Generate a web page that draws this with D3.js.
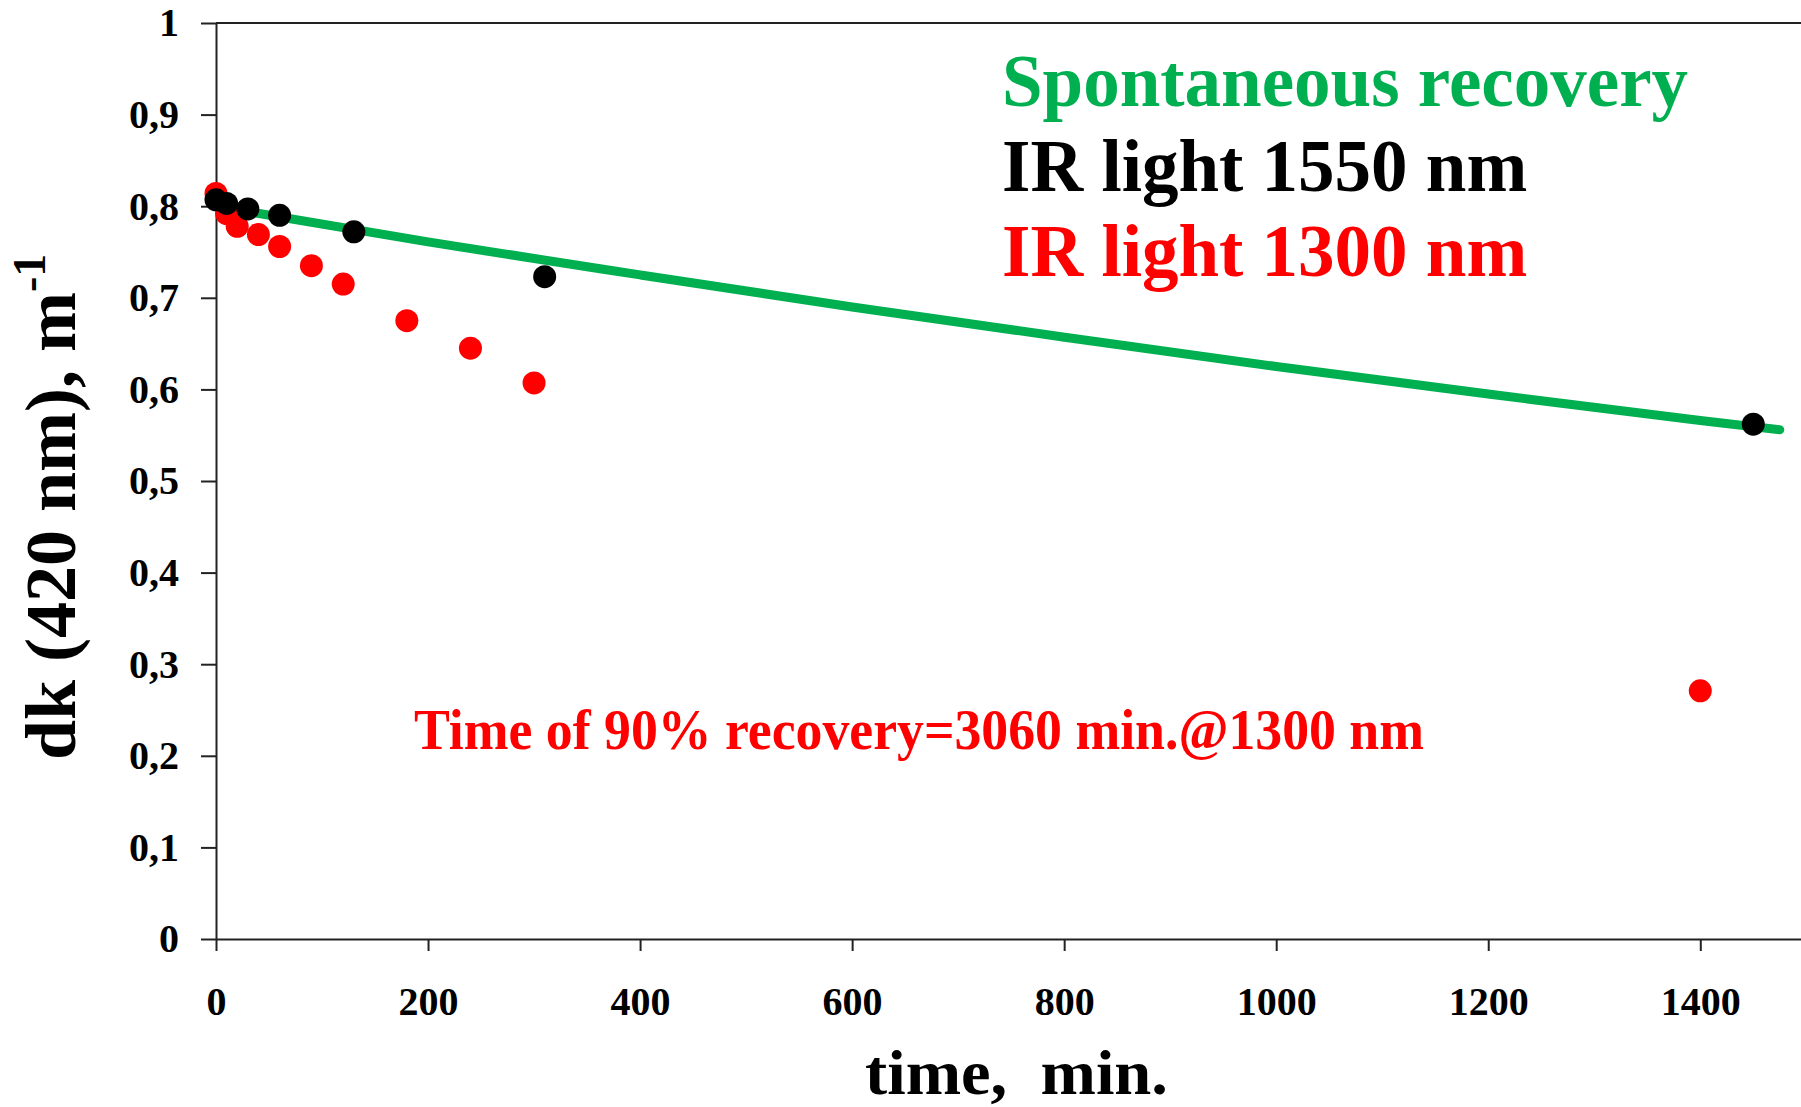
<!DOCTYPE html>
<html>
<head>
<meta charset="utf-8">
<script src="https://cdn.jsdelivr.net/npm/d3@7"></script>
<style>
  body { margin: 0; background: #fff; }
  svg { display: block; font-family: "Liberation Serif", "Times New Roman", serif; font-weight: bold; }
</style>
</head>
<body>
<div id="chart"></div>
<script>
// data
var spontTime = [0, 200, 400, 600, 800, 1000, 1200, 1400, 1475];
var spontDk = [0.800, 0.761, 0.725, 0.690, 0.657, 0.625, 0.595, 0.566, 0.556];

var ir1550Time = [0, 10, 30, 60, 130, 310, 1450];
var ir1550Dk = [0.807, 0.803, 0.797, 0.790, 0.772, 0.723, 0.562];

var ir1300Time = [0, 10, 20, 40, 60, 90, 120, 180, 240, 300, 1400];
var ir1300Dk = [0.814, 0.792, 0.778, 0.769, 0.756, 0.735, 0.715, 0.675, 0.645, 0.607, 0.271];

var xTicks = [0, 200, 400, 600, 800, 1000, 1200, 1400];
var yTicks = [0, 0.1, 0.2, 0.3, 0.4, 0.5, 0.6, 0.7, 0.8, 0.9, 1];
var yTickLabels = ["0", "0,1", "0,2", "0,3", "0,4", "0,5", "0,6", "0,7", "0,8", "0,9", "1"];

var legendNames = ["Spontaneous recovery", "IR light 1550 nm", "IR light 1300 nm"];
var noteText = "Time of 90% recovery=3060 min.@1300 nm";

var svgWidth = 1801;
var svgHeight = 1107;

var margin = { top: 23, right: 0, bottom: 168, left: 216 };
var height = svgHeight - margin.top - margin.bottom;

var green = "#00b050", red = "#ff0000", black = "#000";

var svg = d3.select("#chart")
  .append("svg")
  .attr("width", svgWidth)
  .attr("height", svgHeight);

var chartGroup = svg.append("g")
  .attr("transform", `translate(${margin.left}, ${margin.top})`);

// 1.06 px per minute, axis runs off the right edge
var xScale = d3.scaleLinear()
  .domain([0, 1495])
  .range([0, 1585]);

var yScale = d3.scaleLinear()
  .domain([0, 1])
  .range([height, 0]);

//axes
var bottomAxis = d3.axisBottom(xScale)
  .tickValues(xTicks)
  .tickSize(12)
  .tickSizeOuter(0)
  .tickFormat(d3.format("d"));

var leftAxis = d3.axisLeft(yScale)
  .tickValues(yTicks)
  .tickSize(15)
  .tickSizeOuter(0)
  .tickPadding(22)
  .tickFormat((d, i) => yTickLabels[i]);

var xAxisG = chartGroup.append("g")
  .attr("transform", `translate(0, ${height})`)
  .call(bottomAxis);
xAxisG.selectAll("text")
  .attr("y", 76)
  .attr("dy", 0);

var yAxisG = chartGroup.append("g")
  .call(leftAxis);

// top border
chartGroup.append("line")
  .attr("x1", 0).attr("x2", svgWidth - margin.left)
  .attr("y1", yScale(1)).attr("y2", yScale(1))
  .attr("stroke", "#222").attr("stroke-width", 2);

chartGroup.selectAll(".domain, .tick line")
  .attr("stroke", "#222")
  .attr("stroke-width", 2);
chartGroup.selectAll(".tick text")
  .attr("font-family", "Liberation Serif")
  .attr("font-weight", "bold")
  .attr("font-size", 40)
  .attr("fill", "#000");

// spontaneous recovery curve
var spontData = spontTime.map((t, i) => ({ t: t, v: spontDk[i] }));
var line = d3.line()
  .x(d => xScale(d.t))
  .y(d => yScale(d.v))
  .curve(d3.curveMonotoneX);

chartGroup.append("path")
  .datum(spontData)
  .attr("d", line)
  .attr("fill", "none")
  .attr("stroke", green)
  .attr("stroke-width", 9)
  .attr("stroke-linecap", "round");

//points
chartGroup.selectAll(".red-dot")
  .data(ir1300Time.map((t, i) => ({ t: t, v: ir1300Dk[i] })))
  .enter()
  .append("circle")
  .attr("class", "red-dot")
  .attr("cx", d => xScale(d.t))
  .attr("cy", d => yScale(d.v))
  .attr("r", 11.5)
  .attr("fill", red);

chartGroup.selectAll(".black-dot")
  .data(ir1550Time.map((t, i) => ({ t: t, v: ir1550Dk[i] })))
  .enter()
  .append("circle")
  .attr("class", "black-dot")
  .attr("cx", d => xScale(d.t))
  .attr("cy", d => yScale(d.v))
  .attr("r", 11.5)
  .attr("fill", black);

// legend text
var legendColors = [green, black, red];
var legendY = [106, 191, 276];
svg.selectAll(".legend")
  .data(legendNames)
  .enter()
  .append("text")
  .attr("class", "legend")
  .attr("x", 1002)
  .attr("y", (d, i) => legendY[i])
  .attr("font-size", 73)
  .attr("fill", (d, i) => legendColors[i])
  .text(d => d);

// annotation
svg.append("text")
  .attr("x", 414)
  .attr("y", 749)
  .attr("font-size", 56)
  .attr("fill", red)
  .attr("textLength", 1010)
  .attr("lengthAdjust", "spacingAndGlyphs")
  .text(noteText);

//axes labels
svg.append("text")
  .attr("x", 865)
  .attr("y", 1094)
  .attr("font-size", 64)
  .style("white-space", "pre")
  .attr("textLength", 303)
  .attr("lengthAdjust", "spacingAndGlyphs")
  .text("time,  min.");

var yTitle = svg.append("text")
  .attr("transform", "translate(75, 760) rotate(-90)")
  .attr("font-size", 72);
yTitle.append("tspan").text("dk (420 nm), m");
yTitle.append("tspan")
  .attr("font-size", 46)
  .attr("dy", -30)
  .text("-1");
</script>
</body>
</html>
